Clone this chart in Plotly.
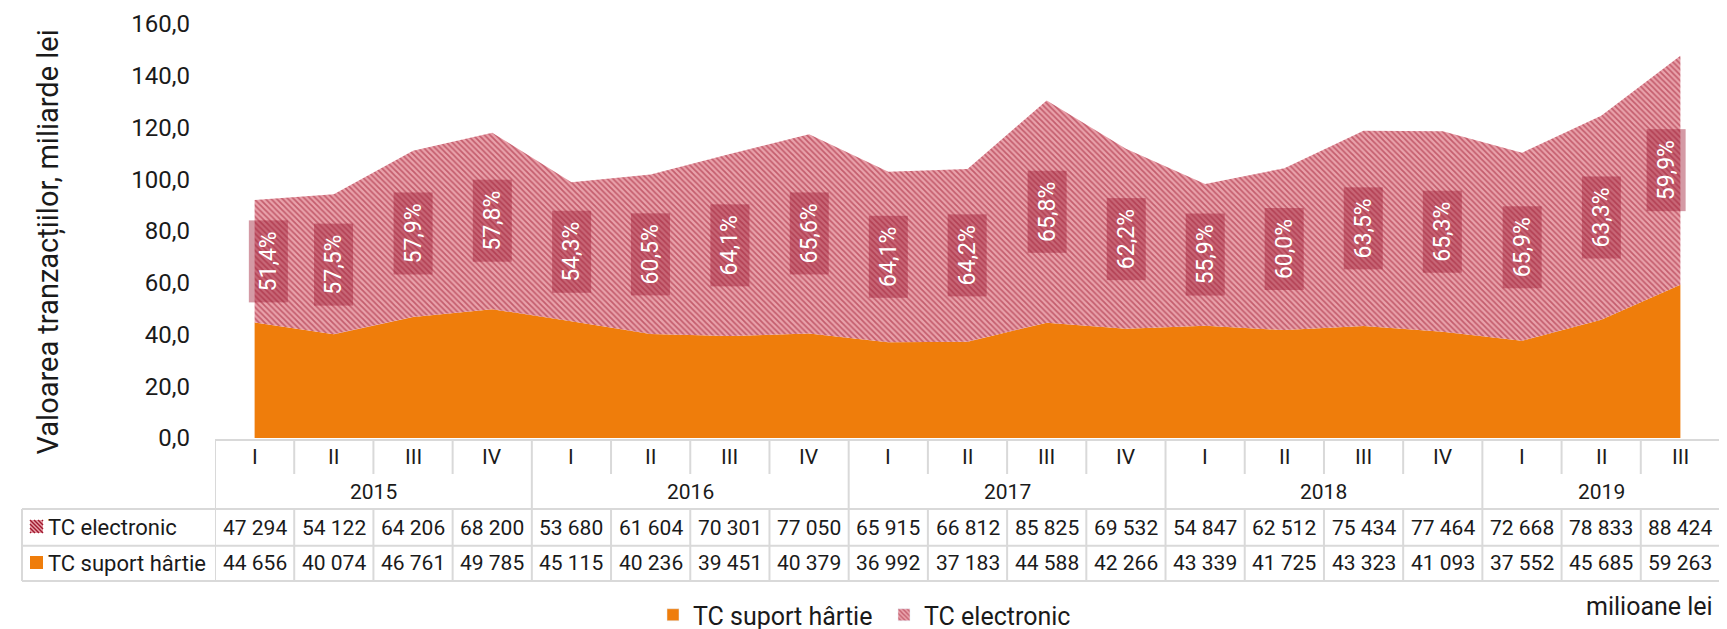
import plotly.graph_objects as go

# ---------------- data ----------------
quarters = ["I", "II", "III", "IV", "I", "II", "III", "IV", "I", "II", "III", "IV",
            "I", "II", "III", "IV", "I", "II", "III"]
years = ["2015"] * 4 + ["2016"] * 4 + ["2017"] * 4 + ["2018"] * 4 + ["2019"] * 3
tc_electronic = [47294, 54122, 64206, 68200, 53680, 61604, 70301, 77050, 65915, 66812,
                 85825, 69532, 54847, 62512, 75434, 77464, 72668, 78833, 88424]
tc_hartie = [44656, 40074, 46761, 49785, 45115, 40236, 39451, 40379, 36992, 37183,
             44588, 42266, 43339, 41725, 43323, 41093, 37552, 45685, 59263]
pct_labels = ["51,4%", "57,5%", "57,9%", "57,8%", "54,3%", "60,5%", "64,1%", "65,6%",
              "64,1%", "64,2%", "65,8%", "62,2%", "55,9%", "60,0%", "63,5%", "65,3%",
              "65,9%", "63,3%", "59,9%"]
name_hartie = "TC suport hârtie"
name_electronic = "TC electronic"
y_title = "Valoarea tranzacțiilor, miliarde lei"
unit_note = "milioane lei"

# ---------------- style ----------------
FONT = "Roboto"
TXT = "#1a1a1a"
ORANGE = "#EF7D0B"
PINK = "#E9A2AB"
DARK = "#A0182F"
GRID = "#d9d9d9"
OFF = 8  # page body margin
W, H = 1727 - OFF, 629 - OFF
ML, MR, MT, MB = 215 - OFF, 7, 24 - OFF, 191
PW = W - ML - MR
PH = H - MT - MB


def py(px):  # screen pixel row -> paper y
    return (H - MB - (px - OFF)) / PH


def pxx(px):  # screen pixel col -> paper x
    return (px - OFF - ML) / PW


n = len(quarters)
xs = list(range(n))
hartie_bn = [v / 1000 for v in tc_hartie]
elec_bn = [v / 1000 for v in tc_electronic]

fig = go.Figure()
fig.add_trace(go.Scatter(x=xs, y=hartie_bn, stackgroup="one", mode="none",
                         fillcolor=ORANGE, name=name_hartie, showlegend=False,
                         hoverinfo="skip"))
fig.add_trace(go.Scatter(x=xs, y=elec_bn, stackgroup="one", mode="none",
                         fillcolor=PINK, name=name_electronic, showlegend=False,
                         fillpattern=dict(shape="\\", fgcolor=DARK, bgcolor=PINK,
                                          size=4, solidity=0.45),
                         hoverinfo="skip"))
# legend entries
fig.add_trace(go.Bar(x=[-10], y=[0], name=name_hartie, marker_color=ORANGE))
fig.add_trace(go.Bar(x=[-10], y=[0], name=name_electronic,
                     marker=dict(color=PINK,
                                 pattern=dict(shape="\\", fgcolor=DARK, bgcolor=PINK,
                                              size=4, solidity=0.45))))

annotations = []
shapes = []

# percentage labels in middle of electronic band
for i in range(n):
    shift = 14 if i == 0 else (-14 if i == n - 1 else 0)
    annotations.append(dict(
        x=xs[i], y=hartie_bn[i] + elec_bn[i] / 2, xref="x", yref="y",
        text=pct_labels[i], textangle=-90, showarrow=False,
        font=dict(family=FONT, size=23, color="white"),
        bgcolor="rgba(160,30,55,0.45)", width=77, height=34, borderpad=2,
        xshift=shift))

# ---------------- data table ----------------
line = dict(color=GRID, width=2)
y_top, y_q, y_yr, y_r1, y_bot = py(440), py(474), py(509), py(545.7), py(581)

shapes.append(dict(type="line", xref="x", yref="paper", x0=-0.5, x1=n - 0.5,
                   y0=y_top, y1=y_top, line=line, layer="above"))
for yy in (y_yr, y_r1, y_bot):
    shapes.append(dict(type="line", xref="paper", yref="paper", x0=pxx(22), x1=1,
                       y0=yy, y1=yy, line=line))
shapes.append(dict(type="line", xref="paper", yref="paper", x0=pxx(22), x1=pxx(22),
                   y0=y_yr, y1=y_bot, line=line))
for k in range(n + 1):
    xb = k - 0.5
    year_edge = k == 0 or k == n or years[k] != years[k - 1]
    if year_edge:
        shapes.append(dict(type="line", xref="x", yref="paper", x0=xb, x1=xb,
                           y0=y_top, y1=y_bot, line=line))
    else:
        shapes.append(dict(type="line", xref="x", yref="paper", x0=xb, x1=xb,
                           y0=y_top, y1=y_q, line=line))
        shapes.append(dict(type="line", xref="x", yref="paper", x0=xb, x1=xb,
                           y0=y_yr, y1=y_bot, line=line))

cell_font = dict(family=FONT, size=21, color=TXT)
for i in range(n):
    annotations.append(dict(x=xs[i], y=py(456.7), xref="x", yref="paper",
                            text=quarters[i], showarrow=False, font=cell_font,
                            yanchor="middle"))
    annotations.append(dict(x=xs[i], y=py(527.7), xref="x", yref="paper",
                            text=f"{tc_electronic[i]:,}".replace(",", " "),
                            showarrow=False, font=cell_font, yanchor="middle"))
    annotations.append(dict(x=xs[i], y=py(563.3), xref="x", yref="paper",
                            text=f"{tc_hartie[i]:,}".replace(",", " "),
                            showarrow=False, font=cell_font, yanchor="middle"))

# year labels
groups = []
for i, yv in enumerate(years):
    if not groups or groups[-1][0] != yv:
        groups.append([yv, i, i])
    else:
        groups[-1][2] = i
for yv, a, b in groups:
    annotations.append(dict(x=(xs[a] + xs[b]) / 2, y=py(491.7), xref="x", yref="paper",
                            text=yv, showarrow=False, font=cell_font, yanchor="middle"))

# row headers
hdr_font = dict(family=FONT, size=22, color=TXT)
annotations.append(dict(x=pxx(46), y=py(527.7), xref="paper", yref="paper",
                        text=name_electronic, showarrow=False, font=hdr_font,
                        xanchor="left", yanchor="middle"))
annotations.append(dict(x=pxx(46), y=py(563.3), xref="paper", yref="paper",
                        text=name_hartie, showarrow=False, font=hdr_font,
                        xanchor="left", yanchor="middle"))
# row header markers
shapes.append(dict(type="rect", xref="paper", yref="paper", x0=pxx(30), x1=pxx(43),
                   y0=py(556), y1=py(569), fillcolor=ORANGE, line=dict(width=0)))
shapes.append(dict(type="rect", xref="paper", yref="paper", x0=pxx(30), x1=pxx(43),
                   y0=py(520), y1=py(533), fillcolor=PINK, line=dict(width=0)))
for d in range(-12, 13, 4):
    if d >= 0:
        u0, v0, u1, v1 = d, 0, 13, 13 - d
    else:
        u0, v0, u1, v1 = 0, -d, 13 + d, 13
    shapes.append(dict(type="line", xref="paper", yref="paper",
                       x0=pxx(30 + u0), y0=py(520 + v0), x1=pxx(30 + u1), y1=py(520 + v1),
                       line=dict(color=DARK, width=1.4)))

# y title and unit note
annotations.append(dict(x=pxx(28), y=py(242), xref="paper", yref="paper",
                        text=y_title, textangle=-90, showarrow=False,
                        font=dict(family=FONT, size=29, color=TXT)))
annotations.append(dict(x=pxx(1715), y=py(606), xref="paper", yref="paper",
                        text=unit_note, showarrow=False, xanchor="right",
                        yanchor="middle", font=dict(family=FONT, size=25, color=TXT)))

fig.update_layout(
    width=W, height=H,
    margin=dict(l=ML, r=MR, t=MT, b=MB, autoexpand=False),
    paper_bgcolor="white", plot_bgcolor="white",
    separators=", ",
    font=dict(family=FONT, color=TXT),
    xaxis=dict(range=[-0.5, n - 0.5], showticklabels=False, showgrid=False,
               zeroline=False, showline=False, ticks="", automargin=False),
    yaxis=dict(range=[0, 160], dtick=20, tickformat=".1f", showgrid=False,
               zeroline=False, showline=False, ticks="", ticklabelstandoff=24,
               automargin=False,
               tickfont=dict(family=FONT, size=24, color=TXT)),
    showlegend=True,
    legend=dict(orientation="h", x=pxx(653), xanchor="left", y=py(615),
                yanchor="middle", font=dict(family=FONT, size=25, color=TXT),
                traceorder="normal", bgcolor="rgba(0,0,0,0)",
                entrywidth=186, entrywidthmode="pixels"),
    annotations=annotations,
    shapes=shapes,
)

fig.write_html("out.html")
